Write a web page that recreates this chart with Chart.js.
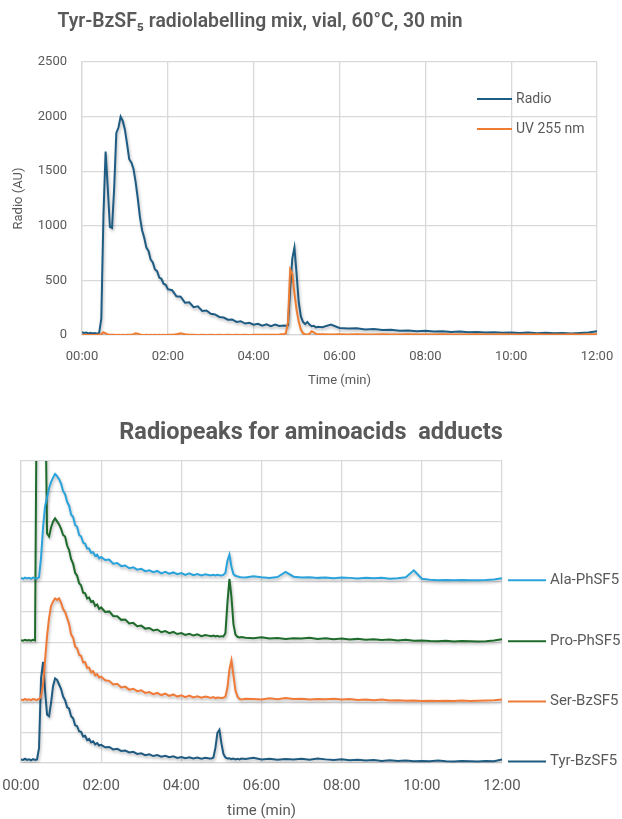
<!DOCTYPE html>
<html><head><meta charset="utf-8">
<script src="https://cdn.jsdelivr.net/npm/chart.js@4.4.1/dist/chart.umd.min.js"></script>
<style>
html,body{margin:0;padding:0;background:#fff;width:622px;height:819px;overflow:hidden}
#c1{position:absolute;left:0;top:0}
#c2{position:absolute;left:0;top:395px}
</style></head><body>
<canvas id="c1" width="622" height="395"></canvas>
<canvas id="c2" width="622" height="424"></canvas>
<script>
// ---- time grid (min) ----
const TIME = [
  0,0.05,0.1,0.15,0.2,0.25,0.3,0.35,0.4,0.45,0.5,0.55,0.6,0.65,0.7,0.75,0.8,0.85,0.9,0.95,1,1.05,1.1,1.15,1.2,1.25,1.3,1.35,1.4,1.45,1.5,1.55,1.6,1.65,1.7,1.75,1.8,1.85,1.9,1.95,2,
  2.1,2.2,2.3,2.4,2.5,2.6,2.7,2.8,2.9,3,3.1,3.2,3.3,3.4,3.5,3.6,3.7,3.8,3.9,4,4.1,4.2,4.3,4.4,4.5,4.6,4.7,
  4.75,4.8,4.85,4.9,4.95,5,5.05,5.1,5.15,5.2,5.25,5.3,5.35,5.4,5.45,5.5,
  5.6,5.8,6,6.2,6.4,6.6,6.8,7,7.2,7.4,7.6,7.8,8,8.2,8.4,8.6,8.8,9,9.2,9.4,9.6,9.8,10,10.2,10.4,10.6,10.8,11,11.2,11.4,11.6,11.8,12
];
const TIME_TICKS = ['00:00','02:00','04:00','06:00','08:00','10:00','12:00'];

// ---- top chart ----
const TOP_TITLE = 'Tyr-BzSF\u2085 radiolabelling mix, vial, 60°C, 30 min';
const TOP_SERIES = ['Radio', 'UV 255 nm'];
const RADIO = [
  25,18,22,15,20,14,18,12,20,150, 1100,1680,1350,990,980,1350,1850,1900,2000,1960, 1880,1750,1610,1580,1520,1400,1250,1080,960,890, 800,770,690,665,600,585,525,515,470,460, 420,
  410,355,350,295,300,255,262,220,225,195, 188,165,160,140,142,120,126,105,112,95, 102,85,98,80,96,82,88,
  85,90,420,700,800,560,300,170,120,100, 120,95,80,85,70,75,
  72,95,65,60,62,50,55,45,48,40, 42,35,38,32,34,28,32,26,28,24, 26,20,22,18,22,16,20,15,18,14, 18,22,35
];
const UV = [
  2,1,2,1,2,1,1,2,3,8, 25,15,5,3,2,2,1,2,1,2, 1,2,2,3,8,15,12,5,2,1, 2,1,2,1,2,1,2,1,2,1, 2,
  2,6,15,8,3,2,1,2,1,2, 1,2,1,2,1,2,1,2,1,2, 2,3,2,3,3,4,10,
  15,120,600,560,380,230,120,50,15,8, 5,10,35,25,10,8,
  8,5,6,5,6,4,5,6,4,5, 6,5,4,5,6,5,4,5,6,4, 5,6,5,4,5,6,5,4,5,6, 5,6,7
];

// ---- bottom chart (stacked traces, grid units) ----
const BOTTOM_TITLE = 'Radiopeaks for aminoacids  adducts';
const BOTTOM_SERIES = ['Ala-PhSF5', 'Pro-PhSF5', 'Ser-BzSF5', 'Tyr-BzSF5'];
const ALA = [
  6.13,6.1,6.14,6.11,6.13,6.1,6.14,6.12,6.11,6.15, 6.8,7.8,8.5,8.8,9.1,9.3,9.45,9.57,9.5,9.4, 9.25,9.0,8.9,8.65,8.52,8.22,8.15,7.88,7.82,7.55, 7.5,7.3,7.26,7.1,7.1,6.96,6.98,6.86,6.9,6.78, 6.82,
  6.72,6.74,6.6,6.62,6.52,6.54,6.45,6.48,6.4,6.43, 6.35,6.38,6.32,6.36,6.28,6.33,6.27,6.31,6.25,6.29, 6.23,6.28,6.22,6.26,6.21,6.25,6.22,
  6.22,6.23,6.21,6.23,6.22,6.21,6.23,6.3,6.7,6.9, 6.5,6.25,6.2,6.18,6.16,6.15,
  6.14,6.18,6.15,6.13,6.16,6.33,6.17,6.14,6.15,6.13, 6.14,6.12,6.14,6.13,6.11,6.13,6.12,6.13,6.1,6.12, 6.15,6.38,6.1,6.07,6.05,6.06,6.05,6.06,6.05,6.05, 6.06,6.08,6.12
];
const PRO = [
  4.07,4.05,4.08,4.06,4.07,4.05,4.08,4.06,14,14, 14,14,13,7.6,7.5,7.8,8.0,8.1,8.0,7.9, 7.75,7.55,7.5,7.2,7.05,6.75,6.6,6.3,6.2,5.95, 5.88,5.64,5.62,5.45,5.48,5.33,5.36,5.2,5.25,5.1, 5.15,
  5.0,5.02,4.87,4.86,4.74,4.75,4.62,4.64,4.53,4.55, 4.45,4.47,4.39,4.42,4.33,4.37,4.3,4.34,4.27,4.3, 4.24,4.28,4.22,4.26,4.2,4.24,4.21,
  4.2,4.22,4.19,4.21,4.18,4.2,4.19,4.3,5.3,6.1, 5.5,4.6,4.25,4.18,4.16,4.17,
  4.15,4.13,4.16,4.12,4.14,4.11,4.13,4.12,4.15,4.11, 4.13,4.1,4.12,4.09,4.11,4.08,4.1,4.07,4.09,4.06, 4.08,4.05,4.06,4.04,4.03,4.05,4.02,4.04,4.03,4.02, 4.03,4.06,4.1
];
const SER = [
  2.1,2.08,2.12,2.09,2.11,2.08,2.12,2.1,2.09,2.12, 2.2,2.6,3.4,4.2,4.8,5.2,5.35,5.45,5.4,5.45, 5.3,5.1,5.0,4.8,4.6,4.25,4.15,3.85,3.8,3.58, 3.55,3.33,3.34,3.15,3.16,3.0,3.04,2.9,2.94,2.83, 2.86,
  2.74,2.72,2.6,2.62,2.5,2.53,2.43,2.46,2.38,2.41, 2.32,2.35,2.28,2.32,2.25,2.3,2.22,2.27,2.2,2.24, 2.18,2.23,2.17,2.21,2.16,2.2,2.17,
  2.16,2.18,2.15,2.17,2.16,2.15,2.16,2.2,2.5,3.1, 3.4,2.9,2.4,2.2,2.12,2.1,
  2.13,2.12,2.1,2.14,2.11,2.15,2.12,2.13,2.1,2.12, 2.11,2.13,2.1,2.12,2.09,2.1,2.08,2.1,2.07,2.08, 2.06,2.07,2.05,2.06,2.05,2.06,2.05,2.07,2.05,2.06, 2.07,2.08,2.1
];
const TYR = [
  0.12,0.1,0.14,0.1,0.12,0.09,0.13,0.1,0.12,0.5, 2.8,3.35,2.4,1.6,1.55,2.0,2.55,2.8,2.75,2.6, 2.45,2.2,2.08,1.85,1.8,1.55,1.48,1.25,1.22,1.05, 1.03,0.88,0.9,0.76,0.8,0.68,0.72,0.62,0.66,0.58, 0.6,
  0.52,0.53,0.45,0.47,0.4,0.41,0.35,0.37,0.3,0.32, 0.26,0.29,0.23,0.26,0.21,0.24,0.19,0.22,0.17,0.2, 0.16,0.19,0.15,0.18,0.14,0.17,0.15,
  0.15,0.18,0.5,1.0,1.1,0.65,0.3,0.18,0.15,0.16, 0.13,0.15,0.12,0.14,0.12,0.15,
  0.13,0.17,0.12,0.14,0.11,0.13,0.12,0.14,0.11,0.15, 0.12,0.1,0.12,0.09,0.11,0.08,0.1,0.07,0.09,0.07, 0.08,0.06,0.07,0.06,0.08,0.06,0.05,0.07,0.06,0.05, 0.07,0.06,0.12
];

const GREY = '#595959';
const GRID = '#D9D9D9';
const toPts = arr => TIME.map((t, i) => ({x: t, y: arr[i]}));

const shadowPlugin = {
  id: 'lineShadow',
  beforeDatasetsDraw(chart) {
    const c = chart.ctx; c.save();
    c.shadowColor = 'rgba(0,0,0,0.28)'; c.shadowBlur = 3; c.shadowOffsetX = 1; c.shadowOffsetY = 2;
  },
  afterDatasetsDraw(chart) { chart.ctx.restore(); }
};
const posTitle = {
  id: 'posTitle',
  afterDraw(chart, args, o) {
    const c = chart.ctx; c.save();
    c.font = o.font; c.fillStyle = o.color; c.textAlign = 'center'; c.textBaseline = 'middle';
    if (o.maxWidth) c.fillText(o.text, o.x, o.y, o.maxWidth); else c.fillText(o.text, o.x, o.y);
    c.restore();
  }
};
const insideLegend = {
  id: 'insideLegend',
  afterDraw(chart, args, o) {
    const c = chart.ctx; c.save();
    c.font = o.font; c.textBaseline = 'middle'; c.textAlign = 'left';
    chart.data.datasets.forEach((ds, i) => {
      const y = o.y + i * o.gap;
      c.strokeStyle = ds.borderColor; c.lineWidth = 2;
      c.beginPath(); c.moveTo(o.x, y); c.lineTo(o.x + o.len, y); c.stroke();
      c.fillStyle = GREY; c.fillText(ds.label, o.x + o.len + 4, y);
    });
    c.restore();
  }
};
const endLabels = {
  id: 'endLabels',
  afterDraw(chart, args, o) {
    const c = chart.ctx, ys = chart.scales.y, r = chart.chartArea.right; c.save();
    c.font = o.font; c.textBaseline = 'middle'; c.textAlign = 'left';
    chart.data.datasets.forEach(ds => {
      const last = ds.data[ds.data.length - 1].y;
      const y = ys.getPixelForValue(last) + 2;
      c.strokeStyle = ds.borderColor; c.lineWidth = 2;
      c.beginPath(); c.moveTo(r + 6, y); c.lineTo(r + 44, y); c.stroke();
      c.fillStyle = GREY; c.fillText(ds.label, r + 48, y);
    });
    c.restore();
  }
};

new Chart(document.getElementById('c1'), {
  type: 'line',
  data: { datasets: [
    { label: TOP_SERIES[0], data: toPts(RADIO), borderColor: '#1F5C84', borderWidth: 2, pointRadius: 0, tension: 0, order: 1 },
    { label: TOP_SERIES[1], data: toPts(UV), borderColor: '#EE7D31', borderWidth: 2, pointRadius: 0, tension: 0, order: 0 }
  ]},
  options: {
    responsive: false, animation: false, devicePixelRatio: 1,
    layout: { padding: { top: 62, right: 25, left: 0, bottom: 0 } },
    plugins: {
      legend: { display: false }, tooltip: { enabled: false }, title: { display: false },
      posTitle: { text: TOP_TITLE, x: 260, y: 22, maxWidth: 405, font: '600 21px Roboto, sans-serif', color: GREY },
      insideLegend: { x: 477, y: 99, gap: 30, len: 35, font: '14px Roboto' }
    },
    scales: {
      x: { type: 'linear', min: 0, max: 12,
        ticks: { stepSize: 2, callback: v => TIME_TICKS[Math.round(v / 2)], color: GREY, font: { family: 'Roboto', size: 13 }, padding: 2, maxRotation: 0 },
        grid: { color: GRID, lineWidth: 1.3, drawTicks: true, tickLength: 12, tickColor: 'rgba(0,0,0,0)' }, border: { color: GRID, width: 1.3 },
        title: { display: true, text: 'Time (min)', color: GREY, font: { family: 'Roboto', size: 13 }, padding: { top: 6, bottom: 6 } },
        afterFit: s => { s.height = 60; } },
      y: { min: 0, max: 2500,
        ticks: { stepSize: 500, callback: v => String(v), color: GREY, font: { family: 'Roboto', size: 13 }, padding: 15 },
        grid: { color: GRID, lineWidth: 1.3, drawTicks: false }, border: { color: GRID, width: 1.3 },
        title: { display: true, text: 'Radio (AU)', color: GREY, font: { family: 'Roboto', size: 13 }, padding: { top: 11, bottom: 11 } },
        afterFit: s => { s.width = 82; } }
    }
  },
  plugins: [shadowPlugin, posTitle, insideLegend]
});

new Chart(document.getElementById('c2'), {
  type: 'line',
  data: { datasets: [
    { label: BOTTOM_SERIES[0], data: toPts(ALA), borderColor: '#2AA3DC', borderWidth: 2, pointRadius: 0, tension: 0 },
    { label: BOTTOM_SERIES[1], data: toPts(PRO), borderColor: '#1E6B2C', borderWidth: 2, pointRadius: 0, tension: 0 },
    { label: BOTTOM_SERIES[2], data: toPts(SER), borderColor: '#F07A38', borderWidth: 2, pointRadius: 0, tension: 0 },
    { label: BOTTOM_SERIES[3], data: toPts(TYR), borderColor: '#1F5A80', borderWidth: 2, pointRadius: 0, tension: 0 }
  ]},
  options: {
    responsive: false, animation: false, devicePixelRatio: 1,
    layout: { padding: { top: 66, right: 120, left: 0, bottom: 0 } },
    plugins: {
      legend: { display: false }, tooltip: { enabled: false }, title: { display: false },
      posTitle: { text: BOTTOM_TITLE, x: 311, y: 38, font: 'bold 23.5px Roboto, sans-serif', color: GREY },
      endLabels: { font: '15px Roboto' }
    },
    scales: {
      x: { type: 'linear', min: 0, max: 12,
        ticks: { stepSize: 2, callback: v => TIME_TICKS[Math.round(v / 2)], color: GREY, font: { family: 'Roboto', size: 15 }, padding: 1, maxRotation: 0 },
        grid: { color: GRID, lineWidth: 1.3, drawTicks: true, tickLength: 13, tickColor: 'rgba(0,0,0,0)' }, border: { color: GRID, width: 1.3 },
        title: { display: true, text: 'time (min)', color: GREY, font: { family: 'Roboto', size: 15, lineHeight: 1 }, padding: { top: 0, bottom: 0 } },
        afterFit: s => { s.height = 56; } },
      y: { min: 0, max: 10,
        ticks: { stepSize: 1, display: false },
        grid: { color: GRID, lineWidth: 1.3, drawTicks: false }, border: { color: GRID, width: 1.3 },
        afterFit: s => { s.width = 21; } }
    }
  },
  plugins: [shadowPlugin, posTitle, endLabels]
});
</script>
</body></html>
